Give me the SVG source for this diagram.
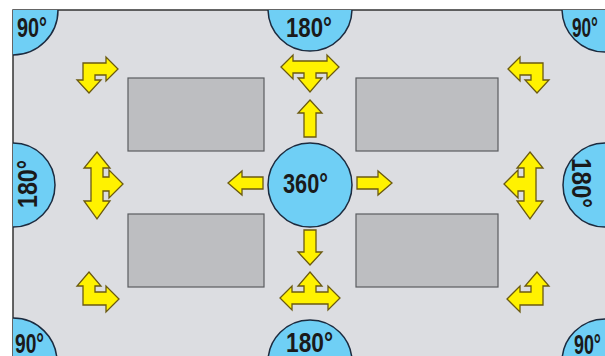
<svg xmlns="http://www.w3.org/2000/svg" width="605" height="356" viewBox="0 0 605 356">
<style>
.panel{fill:#dcdde1;stroke:#333;stroke-width:1.5}
.box{fill:#bdbec1;stroke:#5a5c60;stroke-width:1.2}
.zone{fill:#6fcff5;stroke:#1c2b3f;stroke-width:1.5}
.arr{fill:#fff200;stroke:#6b5a10;stroke-width:1.3;stroke-linejoin:miter}
.lbl{font-family:"Liberation Sans",Arial,sans-serif;font-weight:bold;font-size:27px;fill:#1a1a1a}
</style>
<defs>
<clipPath id="pc"><rect x="13" y="10" width="600" height="360"/></clipPath>
</defs>
<rect width="605" height="356" fill="#fff"/>
<rect class="panel" x="13" y="10" width="600" height="360"/>
<g id="boxes">
<rect class="box" x="128" y="78" width="136" height="73"/>
<rect class="box" x="356" y="78" width="142" height="73"/>
<rect class="box" x="128" y="214" width="136" height="73"/>
<rect class="box" x="356" y="214" width="142" height="73"/>
</g>
<g clip-path="url(#pc)">
<g id="c-tl"><circle class="zone" cx="13" cy="10" r="45"/><text class="lbl" x="17" y="37" textLength="30" lengthAdjust="spacingAndGlyphs">90°</text></g>
<g id="c-tr"><circle class="zone" cx="605" cy="9" r="43"/><text class="lbl" x="572" y="37" textLength="26" lengthAdjust="spacingAndGlyphs">90°</text></g>
<g id="c-bl"><circle class="zone" cx="13" cy="362" r="44"/><text class="lbl" x="15" y="353" textLength="29" lengthAdjust="spacingAndGlyphs">90°</text></g>
<g id="c-br"><circle class="zone" cx="605" cy="362" r="43"/><text class="lbl" x="574" y="354" textLength="27" lengthAdjust="spacingAndGlyphs">90°</text></g>
<g id="c-top"><circle class="zone" cx="310" cy="9" r="42"/><text class="lbl" x="286" y="37" textLength="46" lengthAdjust="spacingAndGlyphs">180°</text></g>
<g id="c-bottom"><circle class="zone" cx="310" cy="362" r="42"/><text class="lbl" x="286" y="352" textLength="47" lengthAdjust="spacingAndGlyphs">180°</text></g>
<g id="c-left"><circle class="zone" cx="13" cy="185" r="42"/><text class="lbl" transform="translate(37,208) rotate(-90)" textLength="48" lengthAdjust="spacingAndGlyphs">180°</text></g>
<g id="c-right"><circle class="zone" cx="605" cy="185" r="42"/><text class="lbl" transform="translate(572,158) rotate(90)" textLength="50" lengthAdjust="spacingAndGlyphs">180°</text></g>
</g>
<g id="c-center"><circle class="zone" cx="310" cy="185" r="42"/><text class="lbl" x="283" y="193" textLength="45" lengthAdjust="spacingAndGlyphs">360°</text></g>
<g id="arrows">
<path class="arr" d="M310,100 L322,113 L316,113 L316,137 L304,137 L304,113 L298,113 Z"/>
<path class="arr" d="M310,265 L322,252 L316,252 L316,230 L304,230 L304,252 L298,252 Z"/>
<path class="arr" d="M228,183 L242,171 L242,177 L263,177 L263,189 L242,189 L242,195 Z"/>
<path class="arr" d="M392,183 L378,171 L378,177 L357,177 L357,189 L378,189 L378,195 Z"/>
<path class="arr" d="M281,67 L293,55 L293,61 L327,61 L327,55 L339,67 L327,79 L327,73 L316,73 L316,78 L322,78 L310,92 L298,78 L304,78 L304,73 L293,73 L293,79 Z"/>
<path class="arr" d="M310,272 L322,286 L316,286 L316,292 L328,292 L328,286 L340,298 L328,310 L328,304 L292,304 L292,310 L280,298 L292,286 L292,292 L304,292 L304,286 L298,286 Z"/>
<path class="arr" d="M97,152 L110,168 L103,168 L103,177 L109,177 L109,170 L123,184 L109,198 L109,191 L103,191 L103,201 L110,201 L97,219 L84,201 L91,201 L91,168 L84,168 Z"/>
<path class="arr" d="M530,152 L543,168 L536,168 L536,201 L543,201 L530,219 L517,201 L524,201 L524,191 L518,191 L518,198 L504,184 L518,170 L518,177 L524,177 L524,168 L517,168 Z"/>
<path class="arr" d="M83,63 L106,63 L106,57 L118,69 L106,81 L106,75 L95,75 L95,80 L101,80 L89,93 L77,80 L83,80 Z"/>
<path class="arr" d="M543,63 L520,63 L520,57 L508,69 L520,81 L520,75 L531,75 L531,80 L525,80 L537,93 L549,80 L543,80 Z"/>
<path class="arr" d="M89,272 L101,286 L95,286 L95,292 L106,292 L106,286 L119,299 L106,312 L106,305 L83,305 L83,286 L77,286 Z"/>
<path class="arr" d="M537,272 L525,286 L531,286 L531,292 L520,292 L520,286 L507,299 L520,312 L520,305 L543,305 L543,286 L549,286 Z"/>
</g>
</svg>
